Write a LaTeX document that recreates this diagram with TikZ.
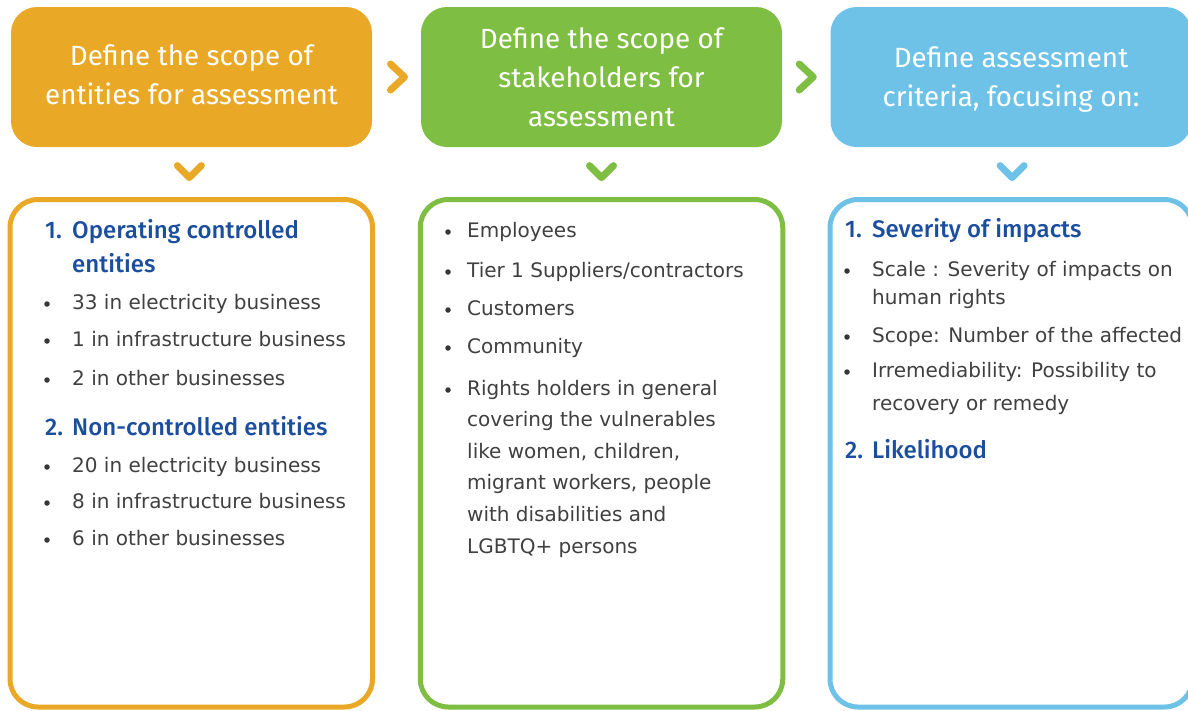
\documentclass[tikz,border=0pt]{standalone}
\usepackage{fontspec}
\usetikzlibrary{calc}
\setmainfont{DejaVu Sans}
\newfontfamily\headfont{Fira Sans}
\newfontfamily\titlefont{Fira Sans Medium}

\definecolor{orangeC}{RGB}{233,168,38}
\definecolor{greenC}{RGB}{126,190,66}
\definecolor{blueC}{RGB}{110,194,232}
\definecolor{titleC}{RGB}{28,78,158}
\definecolor{bodyC}{RGB}{64,64,64}

\tikzset{
  header/.style={rounded corners=26pt, minimum width=361pt, minimum height=140pt, inner sep=0pt},
  panel/.style={rounded corners=28pt, line width=5pt, fill=white, minimum width=362.5pt, minimum height=507.5pt, inner sep=0pt},
  headtext/.style={anchor=base, inner sep=0pt, text=white, font=\headfont\fontsize{27.8}{32}\selectfont},
  titletext/.style={anchor=base west, inner sep=0pt, text=titleC, font=\titlefont\fontsize{24}{28}\selectfont},
  bodytext/.style={anchor=base west, inner sep=0pt, text=bodyC, font=\fontsize{20}{24}\selectfont},
  dot/.style={circle, fill=bodyC!85!black, inner sep=0pt, minimum size=5.5pt},
  chev/.style={line width=7pt, line cap=round, line join=round},
}

% bullet item: name, bullet x, text x, baseline y, text
\newcommand\bitem[5]{%
  \node[dot] (#1d) at (#2,#4-5) {};
  \node[bodytext] (#1) at (#3,#4) {#5};
}
\newcommand\bline[4]{%
  \node[bodytext] (#1) at (#2,#3) {#4};
}

\begin{document}
\begin{tikzpicture}[x=1pt,y=-1pt]
\useasboundingbox (0,0) rectangle (1188,710);
\begin{scope}
\clip (0,0) rectangle (1188,710);

% header boxes
\node[header, fill=orangeC] (h1) at (191.5,77) {};
\node[header, fill=greenC]  (h2) at (601.5,77) {};
\node[header, fill=blueC]   (h3) at (1011,77) {};

% detail panels
\node[panel, draw=orangeC] (b1) at (191.25,453.25) {};
\node[panel, draw=greenC]  (b2) at (601.5,453.25) {};
\node[panel, draw=blueC]   (b3) at (1011.25,453.25) {};

% header captions
\node[headtext] (h1a) at (191.5,65.5) {Define the scope of};
\node[headtext] (h1b) at (191.5,104.5) {entities for assessment};
\node[headtext] (h2a) at (601.5,48) {Define the scope of};
\node[headtext] (h2b) at (601.5,87) {stakeholders for};
\node[headtext] (h2c) at (601.5,126) {assessment};
\node[headtext] (h3a) at (1011,67.5) {Define assessment};
\node[headtext] (h3b) at (1011,106) {criteria, focusing on:};

% chevrons between the steps
\draw[chev, draw=orangeC] ($(h1.east)!0.5!(h2.west)+(1,0)$) ++(-7,-13) -- ++(14,13) -- ++(-14,13);
\draw[chev, draw=greenC]  ($(h2.east)!0.5!(h3.west)+(0,0)$) ++(-7,-13) -- ++(14,13) -- ++(-14,13);
\draw[chev, draw=orangeC] ($(h1.south)!0.5!(b1.north)+(-2,0)$) ++(-12,-6.5) -- ++(12,12) -- ++(12,-12);
\draw[chev, draw=greenC]  ($(h2.south)!0.5!(b2.north)$) ++(-12,-6.5) -- ++(12,12) -- ++(12,-12);
\draw[chev, draw=blueC]   ($(h3.south)!0.5!(b3.north)+(1,0)$) ++(-12,-6.5) -- ++(12,12) -- ++(12,-12);

% entities
\node[titletext] (t1n) at (45,238) {1.};
\node[titletext] (t1a) at (72,238) {Operating controlled};
\node[titletext] (t1b) at (72,272) {entities};
\bitem{e1}{47}{72}{309}{33 in electricity business}
\bitem{e2}{47}{72}{346}{1 in infrastructure business}
\bitem{e3}{47}{72}{385}{2 in other businesses}
\node[titletext] (t2n) at (45,435) {2.};
\node[titletext] (t2a) at (72,435) {Non-controlled entities};
\bitem{e4}{47}{72}{472}{20 in electricity business}
\bitem{e5}{47}{72}{508}{8 in infrastructure business}
\bitem{e6}{47}{72}{545}{6 in other businesses}

% stakeholders
\bitem{s1}{448}{467}{237}{Employees}
\bitem{s2}{448}{467}{277}{Tier 1 Suppliers/contractors}
\bitem{s3}{448}{467}{315}{Customers}
\bitem{s4}{448}{467}{353}{Community}
\bitem{s5}{448}{467}{395}{Rights holders in general}
\bline{s5b}{467}{426}{covering the vulnerables}
\bline{s5c}{467}{458}{like women, children,}
\bline{s5d}{467}{489}{migrant workers, people}
\bline{s5e}{467}{521}{with disabilities and}
\bline{s5f}{467}{553}{LGBTQ+ persons}

% criteria
\node[titletext] (c1n) at (845,237) {1.};
\node[titletext] (c1a) at (872,237) {Severity of impacts};
\bitem{c2}{847}{872}{276}{Scale : Severity of impacts on}
\bline{c2b}{872}{304}{human rights}
\bitem{c3}{847}{872}{342}{Scope: Number of the affected}
\bitem{c4}{847}{872}{377}{Irremediability: Possibility to}
\bline{c4b}{872}{410}{recovery or remedy}
\node[titletext] (c5n) at (845,458) {2.};
\node[titletext] (c5a) at (872,458) {Likelihood};
\end{scope}
\end{tikzpicture}
\end{document}
